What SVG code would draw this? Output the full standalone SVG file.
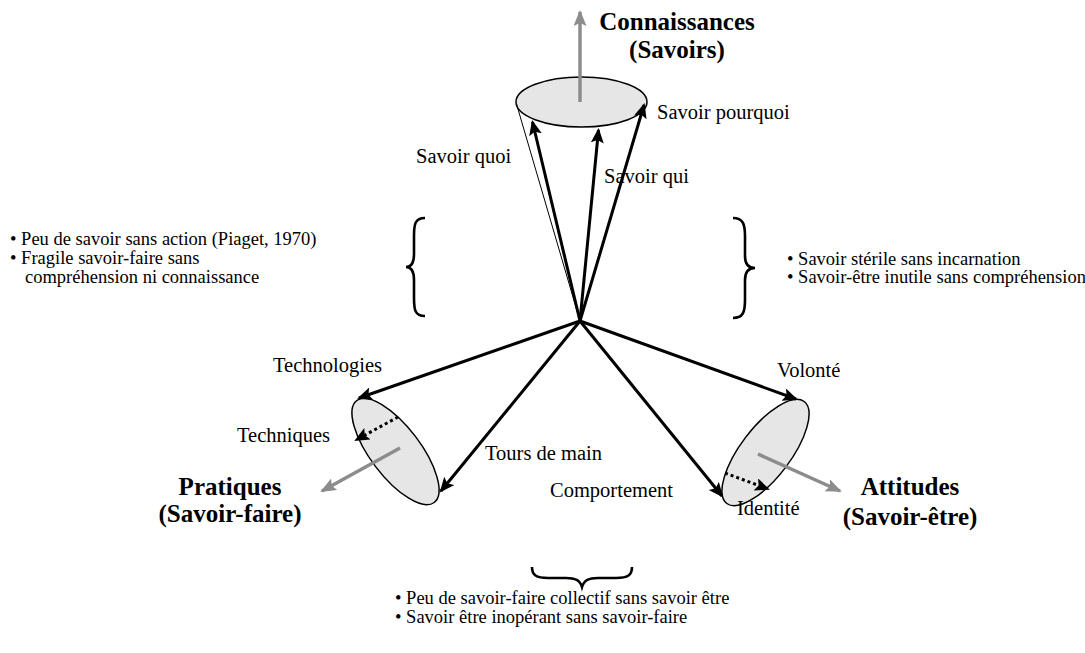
<svg xmlns="http://www.w3.org/2000/svg" width="1085" height="653" viewBox="0 0 1085 653">
<style>
text{font-family:"Liberation Serif","Times New Roman",serif;fill:#000}
.lbl{font-size:20.5px}
.big{font-size:25px;font-weight:bold;text-anchor:middle}
.note{font-size:18.5px}
.disc{fill:#e6e6e6;stroke:#000;stroke-width:1.5}
.arr{stroke:#000;stroke-width:3;fill:none;marker-end:url(#ah)}
.dot{stroke:#000;stroke-width:3;stroke-dasharray:3 3;fill:none;marker-end:url(#ah)}
.gray{stroke:#8c8c8c;stroke-width:3.5;fill:none;marker-end:url(#gh)}
.brace{stroke:#000;stroke-width:2.6;fill:none}
</style>
<defs>
<marker id="ah" markerUnits="userSpaceOnUse" markerWidth="18" markerHeight="14" refX="13" refY="6.5" orient="auto">
<path d="M0,0 L15,6.5 L0,13 L3,6.5 z" fill="#000"/>
</marker>
<marker id="gh" markerUnits="userSpaceOnUse" markerWidth="18" markerHeight="14" refX="14" refY="6.5" orient="auto">
<path d="M0,0 L16,6.5 L0,13 L3,6.5 z" fill="#8c8c8c"/>
</marker>
</defs>
<rect width="1085" height="653" fill="#fff"/>

<g id="node-savoirs">
<ellipse class="disc" cx="581.5" cy="102" rx="65.5" ry="25"/>
<line x1="580" y1="321" x2="516.5" y2="104" stroke="#000" stroke-width="1"/>
<text class="big" x="677" y="30">Connaissances</text>
<text class="big" x="677" y="58">(Savoirs)</text>
</g>

<g id="node-pratiques">
<ellipse class="disc" cx="395.5" cy="451.5" rx="64" ry="25" transform="rotate(52.8 395.5 451.5)"/>
<text class="big" x="230" y="495">Pratiques</text>
<text class="big" x="230" y="522">(Savoir-faire)</text>
</g>

<g id="node-attitudes">
<ellipse class="disc" cx="765.5" cy="452.5" rx="64" ry="25" transform="rotate(-52.8 765.5 452.5)"/>
<text class="big" x="910" y="495">Attitudes</text>
<text class="big" x="910" y="525">(Savoir-être)</text>
</g>

<g id="connectors">
<line class="gray" x1="580" y1="102" x2="580" y2="12"/>
<line class="gray" x1="400" y1="448" x2="322" y2="491"/>
<line class="gray" x1="758" y1="454" x2="840" y2="491"/>
<line class="arr" x1="580" y1="321" x2="532.5" y2="122"/>
<line class="arr" x1="580" y1="321" x2="598.5" y2="130"/>
<line class="arr" x1="580" y1="321" x2="644" y2="105"/>
<line class="arr" x1="580" y1="321" x2="359" y2="398"/>
<line class="arr" x1="580" y1="321" x2="441" y2="491"/>
<line class="arr" x1="580" y1="321" x2="796" y2="399"/>
<line class="arr" x1="580" y1="321" x2="722" y2="496"/>
<line class="dot" x1="398" y1="417" x2="356" y2="440"/>
<line class="dot" x1="725" y1="473" x2="768" y2="489"/>
</g>

<g id="labels">
<text class="lbl" x="657" y="119">Savoir pourquoi</text>
<text class="lbl" x="416" y="163">Savoir quoi</text>
<text class="lbl" x="604" y="183">Savoir qui</text>
<text class="lbl" x="273" y="372">Technologies</text>
<text class="lbl" x="237" y="442">Techniques</text>
<text class="lbl" x="485" y="460">Tours de main</text>
<text class="lbl" x="550" y="497">Comportement</text>
<text class="lbl" x="777" y="377">Volonté</text>
<text class="lbl" x="737" y="515">Identité</text>
</g>

<g id="note-left">
<path class="brace" d="M425,218 C415,218 414,224 414,236 L414,254 C414,263 411,267 406,267 C411,267 414,271 414,280 L414,298 C414,310 415,316 425,316"/>
<text class="note" x="10" y="245">• Peu de savoir sans action (Piaget, 1970)</text>
<text class="note" x="10" y="264">• Fragile savoir-faire sans</text>
<text class="note" x="25" y="283">compréhension ni connaissance</text>
</g>

<g id="note-right">
<path class="brace" d="M733,218 C743,218 745,224 745,236 L745,256 C745,264 748,268 755,268 C748,268 745,272 745,280 L745,300 C745,312 743,318 733,318"/>
<text class="note" x="787" y="265">• Savoir stérile sans incarnation</text>
<text class="note" x="787" y="283">• Savoir-être inutile sans compréhension</text>
</g>

<g id="note-bottom">
<path class="brace" d="M532,567 C532,575 536,578 548,578 L566,578 C575,578 580,580 582,587 C584,580 589,578 598,578 L616,578 C628,578 632,575 632,567"/>
<text class="note" x="395" y="604">• Peu de savoir-faire collectif sans savoir être</text>
<text class="note" x="395" y="623">• Savoir être inopérant sans savoir-faire</text>
</g>
</svg>
